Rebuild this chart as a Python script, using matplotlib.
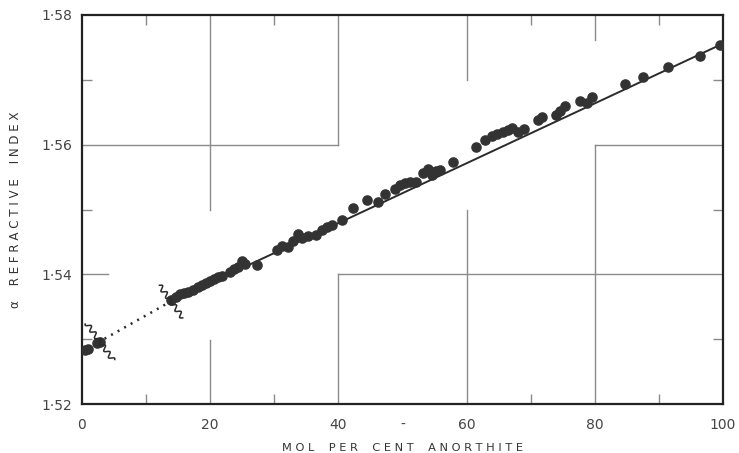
import numpy as np
import matplotlib
matplotlib.use("Agg")
import matplotlib.pyplot as plt

# ---- data ----
an_pct = [0.47, 0.94, 2.34, 2.81, 13.88, 14.66, 15.29, 15.91, 16.54, 17.32, 18.10, 18.72,
          19.34, 19.97, 20.59, 21.22, 21.84, 23.09, 23.71, 24.34, 24.96, 25.43, 27.30,
          30.42, 31.20, 32.14, 32.92, 33.70, 34.32, 35.26, 36.51, 37.44, 38.22, 39.00,
          40.56, 42.28, 44.46, 46.18, 47.27, 48.83, 49.61, 50.39, 51.17, 52.11, 53.20,
          53.98, 54.60, 55.23, 55.85, 57.88, 61.47, 62.87, 63.96, 64.74, 65.68, 66.46,
          67.08, 68.02, 68.95, 71.14, 71.76, 73.95, 74.57, 75.35, 77.69, 78.78, 79.56,
          84.71, 87.52, 91.42, 96.41, 99.53]
alpha_ri = [1.52833, 1.52848, 1.52941, 1.52956, 1.53604, 1.53650, 1.53697, 1.53712, 1.53728,
            1.53758, 1.53805, 1.53836, 1.53866, 1.53897, 1.53928, 1.53959, 1.53974, 1.54036,
            1.54082, 1.54113, 1.54206, 1.54159, 1.54144, 1.54375, 1.54437, 1.54422, 1.54514,
            1.54622, 1.54561, 1.54591, 1.54607, 1.54684, 1.54730, 1.54761, 1.54838, 1.55023,
            1.55147, 1.55116, 1.55239, 1.55316, 1.55378, 1.55409, 1.55424, 1.55424, 1.55563,
            1.55625, 1.55532, 1.55594, 1.55609, 1.55733, 1.55964, 1.56072, 1.56134, 1.56165,
            1.56196, 1.56226, 1.56257, 1.56196, 1.56242, 1.56381, 1.56427, 1.56458, 1.56520,
            1.56597, 1.56674, 1.56643, 1.56736, 1.56936, 1.57044, 1.57198, 1.57368, 1.57538]

fit_x = [14.0, 100.0]
fit_y = [1.5359, 1.5756]
ext_x = [2.5, 14.0]
ext_y = [1.5295, 1.5359]
break_x = [2.8, 13.9]
break_y = [1.5296, 1.5358]

x_ticks = [0, 20, 40, 50, 60, 80, 100]
x_labels = ["0", "20", "40", "-", "60", "80", "100"]
y_ticks = [1.52, 1.54, 1.56, 1.58]
y_labels = ["1·52", "1·54", "1·56", "1·58"]

W, H = 739, 453
fig = plt.figure(figsize=(W / 100, H / 100), dpi=100)
L, R, B, T = 82 / W, 723 / W, 1 - 404 / H, 1 - 15 / H
ax = fig.add_axes([L, B, R - L, T - B])
ax.set_xlim(0, 100)
ax.set_ylim(1.52, 1.58)

gc = "#8a8a8a"
glw = 1.0
# broken grid segments (axes fractions)
for xv, segs in [(20, [(0.5, 1.0), (0.0, 0.165)]),
                 (40, [(0.667, 1.0), (0.0, 0.333)]),
                 (60, [(0.833, 1.0), (0.0, 0.5)]),
                 (80, [(0.935, 1.0), (0.0, 0.667)])]:
    for a, b in segs:
        ax.axvline(xv, a, b, color=gc, lw=glw, zorder=1)
for yv, segs in [(1.56, [(0.0, 0.4), (0.8, 1.0)]),
                 (1.54, [(0.4, 1.0), (0.0, 0.04)])]:
    for a, b in segs:
        ax.axhline(yv, a, b, color=gc, lw=glw, zorder=1)

dark = "#2b2b2b"
ax.plot(fit_x, fit_y, color=dark, lw=1.4, zorder=3)
ax.plot(ext_x, ext_y, color=dark, lw=1.8, linestyle=(0, (0.8, 2.2)), zorder=3)
ax.plot(an_pct, alpha_ri, "o", color="#333333", ms=6.6, mec="#333333", zorder=4)

# wavy break marks (drawn in pixel units, converted to data units)
px_x = 100 / 641.0
px_y = 0.06 / 389.0
for cx, cy, ln in zip(break_x, break_y, [46, 40]):
    d = np.array([0.58, 0.81])
    d = d / np.linalg.norm(d)
    nrm = np.array([-d[1], d[0]])
    s = np.linspace(-ln / 2, ln / 2, 300)
    w = 2.4 * np.sin(2 * np.pi * s / 8.0)
    pxs = s * d[0] + w * nrm[0]
    pys = s * d[1] + w * nrm[1]
    ax.plot(cx + pxs * px_x, cy - pys * px_y, color=dark, lw=1.1, zorder=5)

# axes styling
for sp in ax.spines.values():
    sp.set_linewidth(1.6)
    sp.set_color("#222222")
ax.set_xticks(x_ticks)
ax.set_xticklabels(x_labels)
ax.set_yticks(y_ticks)
ax.set_yticklabels(y_labels)
ax.set_xticks([10, 30, 50, 70, 90], minor=True)
ax.set_yticks([1.53, 1.55, 1.57], minor=True)
ax.tick_params(which="major", length=0, labelsize=10, labelcolor="#444444")
ax.tick_params(axis="x", which="major", pad=10)
ax.tick_params(axis="y", which="major", pad=7)
ax.tick_params(which="minor", direction="in", length=7.5, width=1.0, color=gc,
               top=True, right=True, bottom=True, left=True)

ax.set_xlabel("M O L    P E R    C E N T    A N O R T H I T E", fontsize=8.2,
              color="#333333", labelpad=8)
ax.set_ylabel("α    R E F R A C T I V E    I N D E X", fontsize=8.6,
              color="#333333", labelpad=14)

fig.savefig("out.png", dpi=100, facecolor="white")
